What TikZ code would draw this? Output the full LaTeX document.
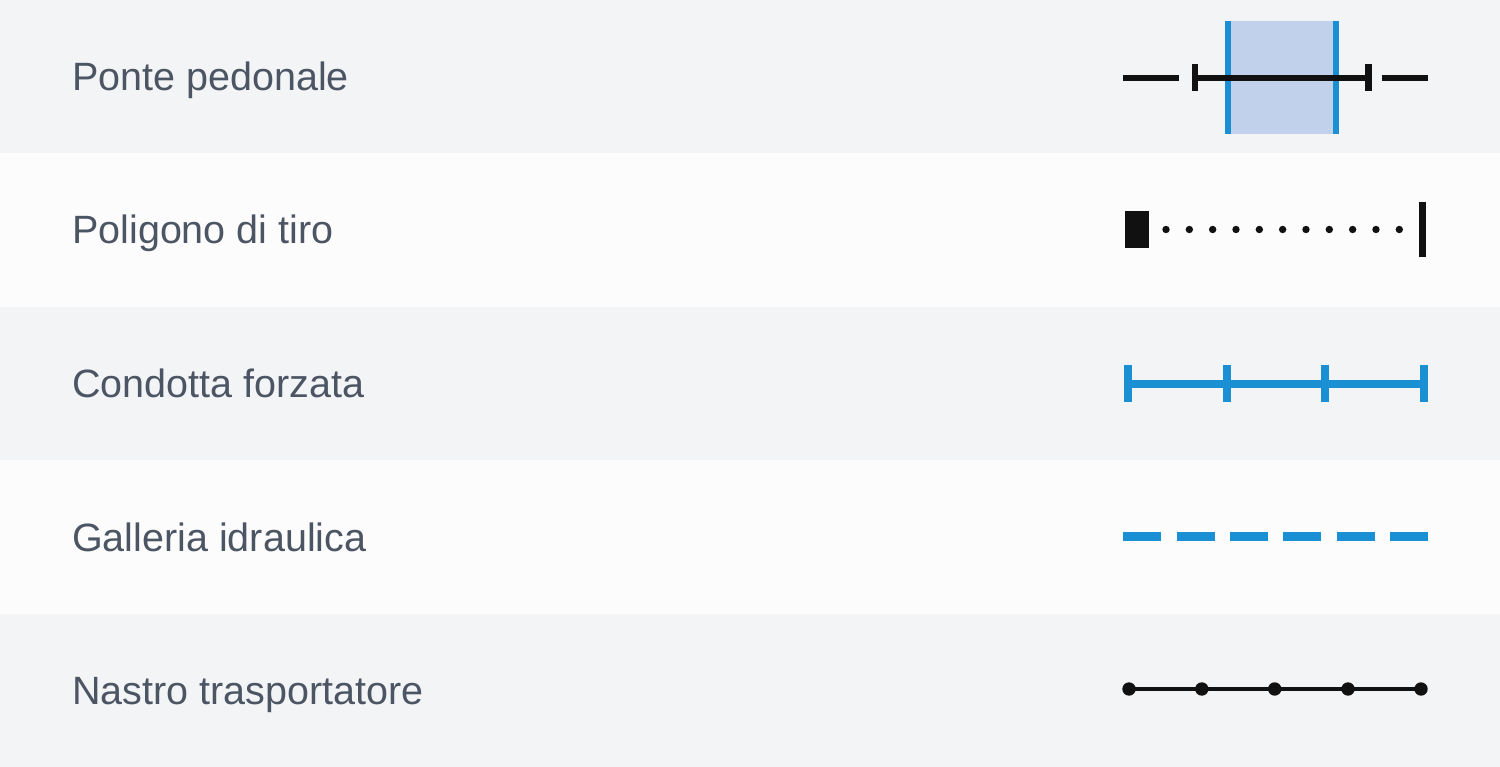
\documentclass[tikz,border=0pt]{standalone}
\usepackage{fontspec}
\setmainfont{Liberation Sans}
\definecolor{rowA}{HTML}{F3F4F6}
\definecolor{rowB}{HTML}{FCFCFC}
\definecolor{txt}{HTML}{4B5563}
\definecolor{ink}{HTML}{111111}
\definecolor{blu}{HTML}{1A8FD4}
\definecolor{boxfill}{HTML}{C1D1EC}
\tikzset{
  lbl/.style={anchor=base west, inner sep=0pt, text=txt, font=\fontsize{39.5}{47}\selectfont},
  blk/.style={draw=ink, line width=6.5pt},
  bl/.style={draw=blu, line width=8pt},
}
\begin{document}
\begin{tikzpicture}[x=1pt,y=-1pt]
\useasboundingbox (0,0) rectangle (1500,767);
% rows
\fill[rowA] (0,0) rectangle (1500,153.4);
\fill[rowB] (0,153.4) rectangle (1500,306.8);
\fill[rowA] (0,306.8) rectangle (1500,460.2);
\fill[rowB] (0,460.2) rectangle (1500,613.6);
\fill[rowA] (0,613.6) rectangle (1500,767);
% labels
\node[lbl] (t1) at (72,90.5) {Ponte pedonale};
\node[lbl] (t2) at (72,244) {Poligono di tiro};
\node[lbl] (t3) at (72,397.5) {Condotta forzata};
\node[lbl] (t4) at (72,551) {Galleria idraulica};
\node[lbl] (t5) at (72,704.5) {Nastro trasportatore};
% row 1: footbridge
\fill[boxfill] (1225,20.7) rectangle (1339.3,134);
\fill[blu] (1225,20.7) rectangle (1231,134);
\fill[blu] (1333.3,20.7) rectangle (1339.3,134);
\draw[blk] (1123,78) -- (1179.3,78);
\draw[blk] (1382,78) -- (1428.3,78);
\draw[blk] (1195,78) -- (1368.5,78);
\draw[blk,line width=6.6pt] (1195,64) -- (1195,91.5);
\draw[blk,line width=6.6pt] (1368.5,64) -- (1368.5,91.5);
% row 2: shooting range
\fill[ink] (1125,211) rectangle (1149,247.7);
\foreach \i in {0,...,10} \fill[ink] ({1166+23.33*\i},229.5) circle (3.7);
\fill[ink] (1419.3,202.3) rectangle (1426,256.7);
% row 3: penstock
\draw[bl] (1124,384) -- (1428,384);
\foreach \x in {1127.5,1226.5,1324.7,1424} \draw[blu,line width=8pt] (\x,365) -- (\x,402.3);
% row 4: hydraulic tunnel
\foreach \i in {0,...,5} \draw[blu,line width=8.5pt] ({1123.3+53.34*\i},536.3) -- ++(38,0);
% row 5: conveyor belt
\draw[ink,line width=4pt] (1129,689) -- (1421,689);
\foreach \x in {1129,1201.8,1274.7,1348,1421} \fill[ink] (\x,689) circle (6.7);
\end{tikzpicture}
\end{document}
